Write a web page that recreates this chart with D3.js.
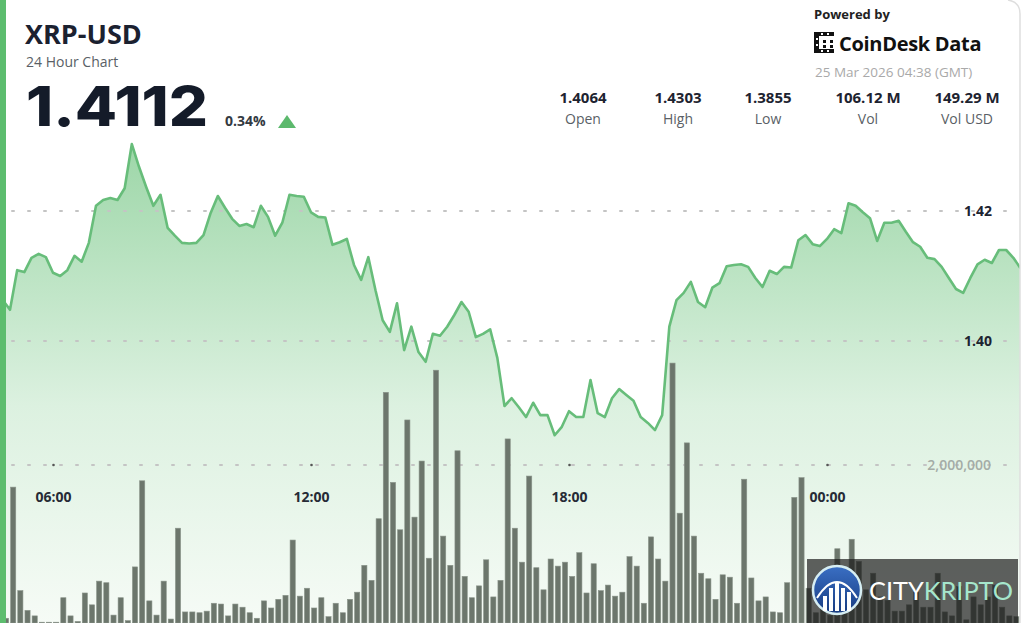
<!DOCTYPE html>
<meta charset="utf-8">
<style>
body { margin: 0; background: #fff; }
svg { display: block; font-family: "Open Sans", "Noto Sans", sans-serif; }
.grid line { stroke: #c4c4c4; stroke-width: 2; stroke-dasharray: 2,14; stroke-linecap: round; }
</style>
<svg width="1024" height="623"></svg>
<script src="https://cdn.jsdelivr.net/npm/d3@7"></script>
<script>

// 10-minute closes, 24 Mar 2026 04:40 -> 25 Mar 2026 04:30 (UTC)
var prices = [
  1.4078, 1.4063, 1.4048, 1.4109, 1.4106, 1.4128, 1.4134, 1.4129, 1.4105, 1.4100,
  1.4109, 1.4131, 1.4122, 1.4151, 1.4208, 1.4217, 1.4220, 1.4217, 1.4235, 1.4303,
  1.4268, 1.4237, 1.4208, 1.4225, 1.4174, 1.4162, 1.4151, 1.4150, 1.4151, 1.4163,
  1.4197, 1.4223, 1.4205, 1.4188, 1.4177, 1.4180, 1.4175, 1.4208, 1.4191, 1.4162,
  1.4182, 1.4225, 1.4223, 1.4222, 1.4198, 1.4191, 1.4190, 1.4148, 1.4152, 1.4157,
  1.4117, 1.4094, 1.4129, 1.4078, 1.4032, 1.4014, 1.4058, 1.3986, 1.4022, 1.3983,
  1.3968, 1.4011, 1.4008, 1.4022, 1.4040, 1.4060, 1.4045, 1.4006, 1.4011, 1.4018,
  1.3974, 1.3900, 1.3912, 1.3898, 1.3883, 1.3905, 1.3886, 1.3886, 1.3855, 1.3868,
  1.3892, 1.3883, 1.3883, 1.3940, 1.3889, 1.3883, 1.3912, 1.3926, 1.3917, 1.3908,
  1.3883, 1.3874, 1.3863, 1.3886, 1.4022, 1.4063, 1.4074, 1.4091, 1.4060, 1.4052,
  1.4082, 1.4089, 1.4115, 1.4117, 1.4118, 1.4114, 1.4097, 1.4083, 1.4108, 1.4103,
  1.4114, 1.4113, 1.4155, 1.4163, 1.4149, 1.4146, 1.4157, 1.4172, 1.4166, 1.4212,
  1.4208, 1.4198, 1.4189, 1.4154, 1.4182, 1.4182, 1.4185, 1.4168, 1.4152, 1.4145,
  1.4128, 1.4126, 1.4114, 1.4097, 1.4080, 1.4074, 1.4097, 1.4118, 1.4125, 1.4120,
  1.4140, 1.4140, 1.4128, 1.4112
];

// volume per 10-minute bar, millions
var volumes = [
  0.05, 0.06, 1.72, 0.41, 0.16, 0.09, 0.01, 0.01, 0.01, 0.32,
  0.09, 0.02, 0.38, 0.23, 0.53, 0.51, 0.10, 0.32, 0.03, 0.71,
  1.80, 0.28, 0.10, 0.53, 0.05, 1.20, 0.14, 0.14, 0.13, 0.15,
  0.25, 0.24, 0.09, 0.24, 0.20, 0.13, 0.06, 0.28, 0.19, 0.30,
  0.35, 1.05, 0.34, 0.44, 0.19, 0.32, 0.08, 0.25, 0.13, 0.30,
  0.39, 0.73, 0.54, 1.32, 2.92, 1.78, 1.18, 2.57, 1.34, 2.05,
  0.82, 3.20, 1.10, 0.73, 2.18, 0.59, 0.32, 0.47, 0.80, 0.33,
  0.54, 2.33, 1.20, 0.77, 1.86, 0.70, 0.42, 0.81, 0.72, 0.77,
  0.59, 0.89, 0.38, 0.75, 0.41, 0.48, 0.34, 0.39, 0.84, 0.72,
  0.25, 1.09, 0.81, 0.53, 3.29, 1.39, 2.28, 1.10, 0.63, 0.56,
  0.30, 0.61, 0.58, 0.25, 1.82, 0.57, 0.28, 0.33, 0.14, 0.13,
  0.51, 1.59, 1.84, 0.44, 0.13, 0.23, 0.10, 0.94, 0.55, 1.06,
  0.78, 0.42, 0.63, 0.33, 0.29, 0.15, 0.15, 0.23, 0.39, 0.20,
  0.20, 0.63, 0.14, 0.09, 0.46, 0.04, 0.33, 0.23, 0.33, 0.48,
  0.20, 0.09, 0.08, 0.14
];

var priceTicks = [1.40, 1.42];
var volTicks = [2000000];
var statValues = ["1.4064", "1.4303", "1.3855", "106.12 M", "149.29 M"];
var statLabels = ["Open", "High", "Low", "Vol", "Vol USD"];

var start = Date.UTC(2026, 2, 24, 4, 40);
var data = prices.map((p, i) => ({
  t: new Date(start + i * 600000),
  p: p,
  v: volumes[i] * 1e6
}));

var svg = d3.select("svg"),
    width = +svg.attr("width"),
    height = +svg.attr("height");

var x = d3.scaleUtc()
    .domain([new Date(Date.UTC(2026, 2, 24, 6)), new Date(Date.UTC(2026, 2, 25, 0))])
    .range([53, 827]);
var y = d3.scaleLinear().domain([1.40, 1.42]).range([341, 211]);
var yVol = d3.scaleLinear().domain([0, 2000000]).range([623, 465]);

var defs = svg.append("defs");
var grad = defs.append("linearGradient")
    .attr("id", "fill")
    .attr("gradientUnits", "userSpaceOnUse")
    .attr("x1", 0).attr("y1", 140).attr("x2", 0).attr("y2", 623);
grad.append("stop").attr("offset", 0).attr("stop-color", "#9cd6a7");
grad.append("stop").attr("offset", 0.55).attr("stop-color", "#dcf1e0");
grad.append("stop").attr("offset", 1).attr("stop-color", "#f6fbf6");

var logoGrad = defs.append("linearGradient")
    .attr("id", "logoBlue").attr("x1", 0).attr("y1", 0).attr("x2", 0).attr("y2", 1);
logoGrad.append("stop").attr("offset", 0).attr("stop-color", "#3a6fc4");
logoGrad.append("stop").attr("offset", 1).attr("stop-color", "#173b80");

defs.append("clipPath").attr("id", "plot")
  .append("rect").attr("x", 6).attr("y", 0).attr("width", 1014).attr("height", height);

var plot = svg.append("g").attr("clip-path", "url(#plot)");

// price area + line
var area = d3.area()
    .x(d => x(d.t))
    .y0(height)
    .y1(d => y(d.p));
var line = d3.line()
    .x(d => x(d.t))
    .y(d => y(d.p));

plot.append("path")
    .datum(data)
    .attr("fill", "url(#fill)")
    .attr("d", area);

// gridlines
var grid = plot.append("g").attr("class", "grid");
grid.selectAll(".gp")
  .data(priceTicks)
  .enter().append("line")
    .attr("x1", 12).attr("x2", 1018)
    .attr("y1", d => y(d)).attr("y2", d => y(d));
grid.selectAll(".gv")
  .data(volTicks)
  .enter().append("line")
    .attr("x1", 12).attr("x2", 1018)
    .attr("y1", d => yVol(d)).attr("y2", d => yVol(d));

plot.append("path")
    .datum(data)
    .attr("fill", "none")
    .attr("stroke", "#67bd7a")
    .attr("stroke-width", 2.6)
    .attr("stroke-linejoin", "round")
    .attr("d", line);

// volume bars
var step = x(new Date(start + 600000)) - x(new Date(start));
plot.append("g")
  .selectAll("rect")
  .data(data)
  .enter().append("rect")
    .attr("x", d => x(d.t) + 0.6)
    .attr("y", d => yVol(d.v))
    .attr("width", step - 2)
    .attr("height", d => yVol(0) - yVol(d.v))
    .attr("fill", "#6c766c")
    .attr("stroke", "#8a948a")
    .attr("stroke-width", 0.6);

// time axis
var xAxis = d3.axisBottom(x)
    .ticks(d3.utcHour.every(6))
    .tickFormat(d3.utcFormat("%H:%M"))
    .tickSize(0);
var ax = svg.append("g")
    .attr("transform", "translate(0," + yVol(2000000) + ")")
    .call(xAxis);
ax.select(".domain").remove();
ax.selectAll("text")
    .attr("dy", 0)
    .attr("y", 37)
    .attr("fill", "#262b36")
    .style("font-size", "14px")
    .style("font-weight", 700)
    .style("font-family", "'Open Sans', sans-serif");
ax.selectAll(".tick").append("circle")
    .attr("r", 1.3).attr("fill", "#555");

// right-side value labels
svg.selectAll(".pl")
  .data(priceTicks)
  .enter().append("text")
    .attr("x", 992)
    .attr("y", d => y(d) + 5)
    .attr("text-anchor", "end")
    .attr("fill", "#1d2330")
    .style("font-size", "14px")
    .style("font-weight", 700)
    .text(d => d.toFixed(2));
svg.selectAll(".vl")
  .data(volTicks)
  .enter().append("text")
    .attr("x", 991)
    .attr("y", d => yVol(d) + 5)
    .attr("text-anchor", "end")
    .attr("fill", "#a4aca6")
    .style("font-size", "14px")
    .style("font-weight", 600)
    .text(d => d3.format(",")(d));

// header
svg.append("text").attr("x", 25).attr("y", 44)
    .attr("fill", "#1b2130")
    .style("font-size", "27px").style("font-weight", 700)
    .text("XRP-USD");
svg.append("text").attr("x", 26).attr("y", 67)
    .attr("fill", "#5a5f66")
    .style("font-size", "14px")
    .text("24 Hour Chart");
svg.append("text").attr("x", 26).attr("y", 126)
    .attr("fill", "#141b29")
    .attr("textLength", 182).attr("lengthAdjust", "spacingAndGlyphs")
    .style("font-family", "Inter, 'Open Sans', sans-serif")
    .style("font-size", "55px").style("font-weight", 800)
    .text(prices[prices.length - 1].toFixed(4));
svg.append("text").attr("x", 225).attr("y", 126)
    .attr("fill", "#333a42")
    .style("font-size", "14px").style("font-weight", 700)
    .text("0.34%");
svg.append("path")
    .attr("d", "M278,128 L287,115 L296,128 Z")
    .attr("fill", "#5cb96d");

var statX = [583, 678, 768, 868, 967];
svg.selectAll(".sv")
  .data(statValues)
  .enter().append("text")
    .attr("x", (d, i) => statX[i]).attr("y", 103)
    .attr("text-anchor", "middle")
    .attr("fill", "#1d2330")
    .style("font-size", "15px").style("font-weight", 700)
    .text(d => d);
svg.selectAll(".sl")
  .data(statLabels)
  .enter().append("text")
    .attr("x", (d, i) => statX[i]).attr("y", 124)
    .attr("text-anchor", "middle")
    .attr("fill", "#5a5f66")
    .style("font-size", "14px")
    .text(d => d);

// powered by
svg.append("text").attr("x", 814).attr("y", 19)
    .attr("fill", "#222")
    .style("font-size", "13px").style("font-weight", 700)
    .text("Powered by");
var icon = svg.append("g").attr("transform", "translate(814,32)").attr("fill", "#111");
icon.append("rect").attr("x", 0).attr("y", 0).attr("width", 5).attr("height", 21);
icon.append("rect").attr("x", 0).attr("y", 0).attr("width", 20).attr("height", 4);
icon.append("rect").attr("x", 0).attr("y", 17).attr("width", 20).attr("height", 4);
icon.selectAll(".dt").data([[9, 8], [9, 13], [16, 8], [16, 13]]).enter()
  .append("rect").attr("x", d => d[0]).attr("y", d => d[1]).attr("width", 3).attr("height", 3);
icon.selectAll(".wh").data([[2, 6], [2, 12], [7, 1], [13, 1], [7, 18], [13, 18]]).enter()
  .append("rect").attr("x", d => d[0]).attr("y", d => d[1]).attr("width", 2).attr("height", 2)
  .attr("fill", "#fff");
svg.append("text").attr("x", 839).attr("y", 51)
    .attr("fill", "#111")
    .style("font-size", "20px").style("font-weight", 700)
    .style("letter-spacing", "-0.3px")
    .text("CoinDesk Data");
svg.append("text").attr("x", 815).attr("y", 77)
    .attr("fill", "#a9a9a9")
    .style("font-size", "13.5px")
    .text("25 Mar 2026 04:38 (GMT)");

// card border + left accent
svg.append("path")
    .attr("d", "M1008,0 Q1020,2 1020,14 L1020,623")
    .attr("fill", "none").attr("stroke", "#dedede").attr("stroke-width", 1.5);
svg.append("rect").attr("x", 0).attr("y", 0).attr("width", 6).attr("height", height)
    .attr("fill", "#5dbd6e");

// watermark
var wm = svg.append("g");
wm.append("rect").attr("x", 807).attr("y", 559).attr("width", 211).attr("height", 64)
    .attr("fill", "rgba(22,22,22,0.68)");
wm.append("circle").attr("cx", 837).attr("cy", 590).attr("r", 24)
    .attr("fill", "url(#logoBlue)").attr("stroke", "#d6eef3").attr("stroke-width", 2.5);
wm.selectAll(".bb").data([[823, 596], [829, 588], [835, 583], [841, 588], [847, 592]]).enter()
  .append("rect").attr("x", d => d[0]).attr("y", d => d[1])
  .attr("width", 4).attr("height", d => 611 - d[1]).attr("fill", "#fff");
wm.append("path").attr("d", "M817,598 Q837,566 857,598").attr("fill", "none")
    .attr("stroke", "#fff").attr("stroke-width", 2);
var wt = wm.append("text").attr("x", 869).attr("y", 600)
    .attr("textLength", 144).attr("lengthAdjust", "spacingAndGlyphs")
    .style("font-size", "25px").style("font-family", "Lato, 'Open Sans', sans-serif");
wt.append("tspan").attr("fill", "#fff").text("CITY");
wt.append("tspan").attr("fill", "#a6e6cc").text("KRIPTO");

</script>
